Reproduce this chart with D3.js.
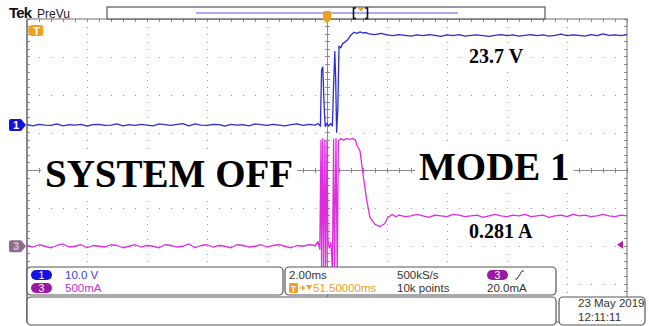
<!doctype html>
<html lang="en">
<head>
<meta charset="utf-8">
<title>Tek PreVu capture</title>
<style>
  body { margin: 0; background: #fff; }
  svg { display: block; font-family: "Liberation Sans", Arial, sans-serif; }
  .grat line { stroke: #8a8a8a; stroke-width: 1; shape-rendering: crispEdges; }
  .dot { fill: #9a9a9a; shape-rendering: crispEdges; }
  .box { fill: #fff; stroke: #555; stroke-width: 1.2; }
  .ro { font-size: 11.5px; fill: #333; }
  .note { font-family: "Liberation Serif", "Times New Roman", serif; font-weight: bold; fill: #000; }
  .trace { fill: none; stroke-width: 1.3; stroke-linejoin: round; }
</style>
</head>
<body>
<script src="https://d3js.org/d3.v7.min.js"></script>
<script>

// samples, listed every 0.2 ms away from the edge
var sampleStep = 0.2;

// channel 1, volts, from -10 ms
var ch1Before = [0.1, -0.2, 0.2, 0.0, -0.1, 0.3, -0.2, 0.1, 0.0, 0.2,
  -0.3, 0.1, 0.2, -0.1, 0.0, 0.3, -0.2, 0.1, -0.1, 0.2,
  0.0, -0.2, 0.3, 0.1, -0.1, 0.2, 0.4, -0.2, 0.3, 0.0,
  -0.1, 0.2, 0.1, -0.3, 0.2, 0.0, 0.1, -0.2, 0.3, 0.1,
  -0.1, 0.2, 0.0, -0.2, 0.1, 0.3, -0.1, 0.2];
// around the trigger: [ms, V]
var ch1Edge = [[-0.4, 0.0], [-0.3, 0.4], [-0.22, -0.3], [-0.18, 14.6], [-0.14, 15.3],
  [-0.1, 6.0], [-0.06, -0.4], [0.0, 0.5], [0.06, -0.3], [0.12, 0.4], [0.18, -0.2],
  [0.22, 10.5], [0.26, 19.4], [0.29, 12.0], [0.32, -1.9], [0.36, 4.0], [0.4, 20.8],
  [0.46, 20.4], [0.52, 21.5], [0.6, 21.9], [0.7, 22.6], [0.8, 23.8], [0.9, 24.5],
  [1.0, 24.2], [1.1, 24.6], [1.2, 24.3], [1.3, 24.4]];
// from 1.4 ms
var ch1After = [24.1, 23.9, 24.2, 23.8, 23.6, 23.9, 23.7, 23.5, 23.8, 23.6,
  23.9, 23.7, 23.4, 23.8, 23.6, 23.9, 23.5, 23.7, 23.8, 23.6,
  23.4, 23.7, 23.9, 23.6, 23.8, 23.5, 23.7, 23.9, 23.6, 23.8,
  23.5, 23.7, 24.0, 23.6, 23.8, 23.7, 23.5, 23.9, 23.6, 24.1,
  23.7, 23.8, 23.6, 23.9];

// channel 3, amps, from -10 ms
var ch3Before = [0.01, -0.01, 0.02, 0.00, -0.02, 0.01, 0.03, -0.01, 0.00, 0.02,
  -0.02, 0.01, 0.00, -0.01, 0.02, 0.01, -0.02, 0.00, 0.02, -0.01,
  0.01, 0.00, -0.02, 0.02, 0.01, -0.01, 0.00, 0.03, -0.02, 0.01,
  0.02, -0.01, 0.01, 0.00, -0.02, 0.02, 0.01, -0.01, 0.00, 0.02,
  -0.01, 0.01, 0.02, 0.00, -0.02, 0.01, 0.00, 0.02];
var ch3Edge = [[-0.4, 0.01], [-0.3, 0.06], [-0.24, -0.04], [-0.2, 1.40], [-0.18, -0.32],
  [-0.14, 1.42], [-0.11, -0.32], [-0.07, 1.40], [-0.04, -0.3], [0.0, 1.38], [0.03, 0.08],
  [0.08, -0.02], [0.13, 0.05], [0.18, -0.32], [0.22, 1.41], [0.25, -0.32], [0.3, 1.42],
  [0.34, -0.3], [0.38, 1.39], [0.45, 1.42], [0.55, 1.40], [0.65, 1.42], [0.75, 1.41],
  [0.85, 1.42], [0.95, 1.40], [1.0, 1.33], [1.1, 1.26], [1.2, 0.95], [1.32, 0.62],
  [1.43, 0.38], [1.6, 0.29], [1.77, 0.26], [1.93, 0.30], [2.03, 0.38], [2.17, 0.42],
  [2.3, 0.39]];
// from 2.4 ms
var ch3After = [0.41, 0.39, 0.40, 0.42, 0.40, 0.38, 0.41, 0.40, 0.39, 0.42,
  0.41, 0.39, 0.40, 0.41, 0.38, 0.40, 0.42, 0.40, 0.39, 0.41,
  0.40, 0.42, 0.39, 0.40, 0.41, 0.38, 0.40, 0.41, 0.39, 0.42,
  0.40, 0.41, 0.39, 0.40, 0.42, 0.40, 0.39, 0.41, 0.40];

// readout texts
var ch1Scale = "10.0 V", ch3Scale = "500mA";
var timeBase = "2.00ms", sampleRate = "500kS/s", recordLen = "10k points";
var trigPos = "51.50000ms", trigLevel = "20.0mA";
var dateText = "23 May 2019", timeText = "12:11:11";
var notes = ["SYSTEM OFF", "MODE 1", "23.7 V", "0.281 A"];

var blue = "#2d2dd2", magenta = "#e02ce0", orange = "#f0a020", purple = "#9a1aa2";

var svg = d3.select("body").append("svg")
    .attr("width", 649)
    .attr("height", 326);

var plot = {left: 27, right: 627, top: 19, bottom: 322};
var xDiv = d3.scaleLinear().domain([0, 10]).range([plot.left, plot.right]);
var yDiv = d3.scaleLinear().domain([-4, 4]).range([plot.bottom, plot.top]);
var xT = d3.scaleLinear().domain([-10, 10]).range([plot.left, plot.right]);
// ch1 at 10 V/div with +1.2 div offset, ch3 at 500 mA/div with -2 div offset
var y1 = d3.scaleLinear().domain([0, 10]).range([yDiv(1.2), yDiv(2.2)]);
var y3 = d3.scaleLinear().domain([0, 0.5]).range([yDiv(-2), yDiv(-1)]);

// graticule
var g = svg.append("g").attr("class", "grat");
var minorX = d3.range(0, 51).map(function(i){ return xDiv(i / 5); });
var minorY = d3.range(0, 41).map(function(j){ return yDiv(-4 + j / 5); });

var rows = [-3, -2, -1, 1, 2, 3], cols = [1, 2, 3, 4, 6, 7, 8, 9];
rows.forEach(function(r){
  g.selectAll(null).data(minorX.slice(1, -1)).enter().append("rect")
    .attr("class", "dot")
    .attr("x", function(d){ return Math.round(d); })
    .attr("y", Math.round(yDiv(r)))
    .attr("width", 1).attr("height", 1);
});
cols.forEach(function(c){
  g.selectAll(null).data(minorY.slice(1, -1)).enter().append("rect")
    .attr("class", "dot")
    .attr("x", Math.round(xDiv(c)))
    .attr("y", function(d){ return Math.round(d); })
    .attr("width", 1).attr("height", 1);
});

// centre cross with minor ticks
var cy = yDiv(0), cx = xDiv(5);
g.append("line").attr("x1", plot.left).attr("x2", plot.right).attr("y1", cy).attr("y2", cy);
g.append("line").attr("x1", cx).attr("x2", cx).attr("y1", plot.top).attr("y2", plot.bottom);
g.selectAll(null).data(minorX).enter().append("line")
  .attr("x1", function(d){ return d; }).attr("x2", function(d){ return d; })
  .attr("y1", cy - 2.5).attr("y2", cy + 2.5);
g.selectAll(null).data(minorY).enter().append("line")
  .attr("x1", cx - 2.5).attr("x2", cx + 2.5)
  .attr("y1", function(d){ return d; }).attr("y2", function(d){ return d; });

// border ticks
g.selectAll(null).data(minorX).enter().append("line")
  .attr("x1", function(d){ return d; }).attr("x2", function(d){ return d; })
  .attr("y1", plot.top).attr("y2", plot.top + 3);
g.selectAll(null).data(minorY).enter().append("line")
  .attr("x1", plot.left).attr("x2", plot.left + 3)
  .attr("y1", function(d){ return d; }).attr("y2", function(d){ return d; });
g.selectAll(null).data(minorY).enter().append("line")
  .attr("x1", plot.right - 3).attr("x2", plot.right)
  .attr("y1", function(d){ return d; }).attr("y2", function(d){ return d; });

g.append("rect")
  .attr("x", plot.left).attr("y", plot.top)
  .attr("width", plot.right - plot.left).attr("height", plot.bottom - plot.top)
  .attr("fill", "none").attr("stroke", "#6e6e6e");
g.append("line").attr("x1", plot.left).attr("x2", plot.left)
  .attr("y1", plot.top).attr("y2", plot.bottom)
  .style("stroke", "#888").style("stroke-width", 2);

// traces
svg.append("clipPath").attr("id", "clip").append("rect")
  .attr("x", plot.left).attr("y", plot.top)
  .attr("width", plot.right - plot.left).attr("height", plot.bottom - plot.top);

var ch1Pts = ch1Before.map(function(v, i){ return [-10 + i * sampleStep, v]; })
  .concat(ch1Edge, ch1After.map(function(v, i){ return [1.4 + i * sampleStep, v]; }));
var ch3Pts = ch3Before.map(function(v, i){ return [-10 + i * sampleStep, v]; })
  .concat(ch3Edge, ch3After.map(function(v, i){ return [2.4 + i * sampleStep, v]; }));

var line1 = d3.line().x(function(d){ return xT(d[0]); }).y(function(d){ return y1(d[1]); });
var line3 = d3.line().x(function(d){ return xT(d[0]); }).y(function(d){ return y3(d[1]); });

var tr = svg.append("g").attr("clip-path", "url(#clip)");
tr.append("path").datum(ch3Pts).attr("class", "trace").attr("stroke", magenta).attr("d", line3);
tr.append("path").datum(ch1Pts).attr("class", "trace").attr("stroke", blue).attr("d", line1);

// annotations with white backing
function note(txt, x, y, size) {
  var grp = svg.append("g");
  var t = grp.append("text").attr("class", "note")
    .attr("x", x).attr("y", y).style("font-size", size + "px").text(txt);
  var b = t.node().getBBox();
  grp.insert("rect", "text")
    .attr("x", b.x - 4).attr("y", b.y + 2)
    .attr("width", b.width + 8).attr("height", b.height - 2)
    .attr("fill", "#fff");
}
note(notes[0], 45, 187, 39);
note(notes[1], 419, 180, 39);
note(notes[2], 469, 63, 20);
note(notes[3], 469, 238, 20);

// markers
function marker(x0, y0, color, label, labelColor, dir) {
  // rounded tag with a point toward the graticule
  var grp = svg.append("g");
  var p = dir === "right"
    ? "M" + x0 + "," + (y0 - 6) + "h10l5,6l-5,6h-10a2,2 0 0 1 -2,-2v-8a2,2 0 0 1 2,-2z"
    : "M" + x0 + "," + (y0 - 5.5) + "h10a2,2 0 0 1 2,2v7a2,2 0 0 1 -2,2h-10l-4,-5.5z";
  grp.append("path").attr("d", p).attr("fill", color);
  grp.append("text")
    .attr("x", dir === "right" ? x0 + 5 : x0 + 5.5).attr("y", y0 + 4)
    .attr("text-anchor", "middle")
    .style("font-size", "11px").style("font-weight", "bold")
    .attr("fill", labelColor).text(label);
}
marker(11, y1(0), "#1212dc", "1", "#fff", "right");
marker(11, y3(0), "#8c6e8c", "3", "#d8c0d8", "right");
marker(31, 30.5, orange, "T", "#fff", "left");

// trigger level arrow on the right
svg.append("path")
  .attr("d", "M617," + y3(0.02) + "l6,-4v8z")
  .attr("fill", "#b020b0");

// header
svg.append("text").attr("x", 9).attr("y", 18)
  .style("font-size", "15px").style("font-weight", "bold").style("letter-spacing", "-0.8px")
  .attr("fill", "#111").text("Tek");
svg.append("text").attr("x", 37).attr("y", 18)
  .style("font-size", "12px").attr("fill", "#222").text("PreVu");

// record view bar
svg.append("rect").attr("x", 107).attr("y", 7).attr("width", 438).attr("height", 12)
  .attr("fill", "#fff").attr("stroke", "#555").attr("stroke-width", 1.2);
svg.append("line").attr("x1", 196).attr("x2", 458).attr("y1", 13).attr("y2", 13)
  .attr("stroke", "#5a5ae0").attr("stroke-width", 1);
svg.append("path").attr("d", "M356,8H353.5V18.5H356M365,8H367.5V18.5H365")
  .attr("fill", "none").attr("stroke", "#111").attr("stroke-width", 1.6);
svg.append("path").attr("d", "M358,8h6l-3,3.5z").attr("fill", orange);
// trigger position tag on top edge
svg.append("path")
  .attr("d", "M324.5,11h5a1.5,1.5 0 0 1 1.5,1.5v7l-4,4l-4,-4v-7a1.5,1.5 0 0 1 1.5,-1.5z")
  .attr("fill", orange);

// readout boxes
function box(x, y, w, h) {
  svg.append("rect").attr("class", "box")
    .attr("x", x).attr("y", y).attr("width", w).attr("height", h).attr("rx", 4);
}
box(27, 267, 256, 28);
box(285, 267, 271, 28);
box(27, 297, 529, 28);
box(559, 297, 86, 28);

function pill(x, y, color, label) {
  svg.append("rect").attr("x", x).attr("y", y).attr("width", 21).attr("height", 10)
    .attr("rx", 5).attr("fill", color);
  svg.append("text").attr("x", x + 10.5).attr("y", y + 9)
    .attr("text-anchor", "middle").style("font-size", "10.5px")
    .attr("fill", "#fff").text(label);
}
function ro(txt, x, y, color) {
  svg.append("text").attr("class", "ro").attr("x", x).attr("y", y)
    .style("fill", color || "#333").text(txt);
}
pill(31, 270, "#1414dc", "1");
pill(31, 283, purple, "3");
ro(ch1Scale, 65, 279, "#3c3cd8");
ro(ch3Scale, 65, 292, "#c030c8");

ro(timeBase, 289, 279);
ro(sampleRate, 397, 279);
ro(recordLen, 397, 292);
pill(487, 270, purple, "3");
svg.append("path").attr("d", "M515,279h2l5,-8h2").attr("fill", "none")
  .attr("stroke", "#333").attr("stroke-width", 1);
ro(trigLevel, 487, 292);

// trigger position readout
svg.append("rect").attr("x", 289).attr("y", 283).attr("width", 9).attr("height", 10)
  .attr("rx", 1.5).attr("fill", orange);
svg.append("text").attr("x", 293.5).attr("y", 291.5).attr("text-anchor", "middle")
  .style("font-size", "9px").style("font-weight", "bold").attr("fill", "#fff").text("T");
svg.append("path").attr("d", "M299,288h5M302,286l2.5,2l-2.5,2")
  .attr("fill", "none").attr("stroke", orange).attr("stroke-width", 1.2);
svg.append("path").attr("d", "M306,285h6l-3,5z").attr("fill", orange);
ro(trigPos, 313, 292, orange);

ro(dateText, 578, 307);
ro(timeText, 578, 321);

</script>
</body>
</html>
